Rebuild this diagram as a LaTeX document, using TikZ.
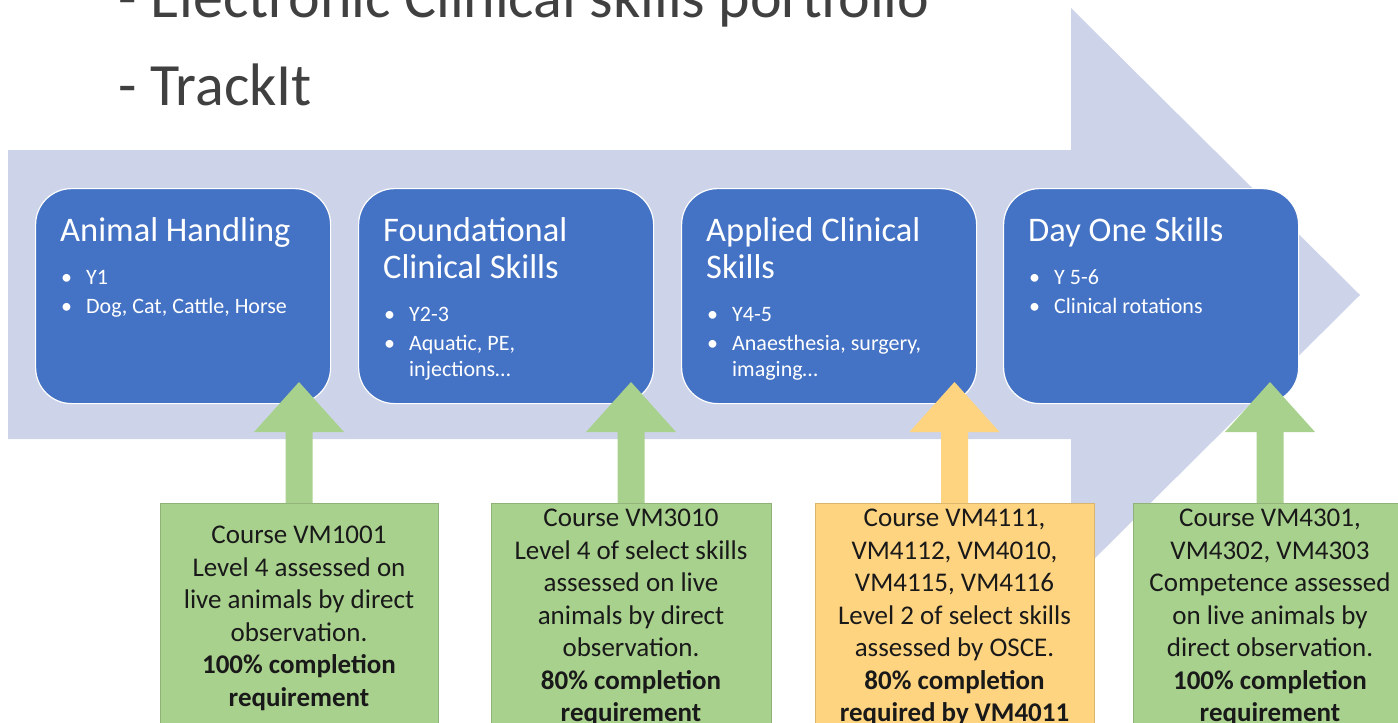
\documentclass[tikz,border=0pt]{standalone}
\usepackage{fontspec}
\setmainfont{Carlito}
\usetikzlibrary{calc}
\definecolor{bgarrow}{HTML}{CDD4E9}
\definecolor{boxblue}{HTML}{4472C4}
\definecolor{lgreen}{HTML}{A9D18E}
\definecolor{lorange}{HTML}{FFD480}
\definecolor{toptext}{HTML}{404040}
\begin{document}
\begin{tikzpicture}[x=1pt,y=-1pt,
  bluebox/.style={draw=white, line width=1.2pt, fill=boxblue, rounded corners=36pt,
    minimum width=295pt, minimum height=215pt, anchor=north west, inner sep=0pt},
  title/.style={anchor=base west, inner sep=0pt, text=white, font=\fontsize{34.5}{37}\selectfont},
  bul/.style={anchor=base west, inner sep=0pt, text=white, font=\fontsize{22}{24}\selectfont},
  gbox/.style={fill=lgreen, draw=lgreen!85!black, line width=0.6pt, anchor=north,
    minimum height=260pt, inner sep=0pt},
  obox/.style={gbox, fill=lorange, draw=lorange!85!black},
  gtext/.style={anchor=north, align=center, inner sep=0pt, text=black!90,
    font=\fontsize{27}{32.5}\selectfont},
  toplabel/.style={anchor=base west, inner sep=0pt, text=toptext, font=\fontsize{60}{70}\selectfont}
]
\useasboundingbox (0,0) rectangle (1398,723);
\clip (0,0) rectangle (1398,723);

% top texts
\node[toplabel] (p1) at (118,17) {- Electronic Clinical skills portfolio};
\node[toplabel] (p2) at (118,105) {- TrackIt};

% big background arrow
\fill[bgarrow] (8,150) -- (1071,150) -- (1071,8) -- (1360,295) -- (1071,582)
  -- (1071,439) -- (8,439) -- cycle;

% blue stage boxes
\node[bluebox] (b1) at (35,188) {};
\node[bluebox] (b2) at (358,188) {};
\node[bluebox] (b3) at (681,188) {};
\node[bluebox] (b4) at (1003,188) {};

% box 1
\node[title] (t1) at ($(b1.north west)+(25,53)$) {Animal Handling};
\node[bul] (b1d1) at ($(b1.north west)+(26,96)$) {•};
\node[bul] (b1l1) at ($(b1.north west)+(51,96)$) {Y1};
\node[bul] (b1d2) at ($(b1.north west)+(26,125)$) {•};
\node[bul] (b1l2) at ($(b1.north west)+(51,125)$) {Dog, Cat, Cattle, Horse};

% box 2
\node[title] (t2a) at ($(b2.north west)+(25,53)$) {Foundational};
\node[title] (t2b) at ($(b2.north west)+(25,90)$) {Clinical Skills};
\node[bul] (b2d1) at ($(b2.north west)+(26,133)$) {•};
\node[bul] (b2l1) at ($(b2.north west)+(51,133)$) {Y2-3};
\node[bul] (b2d2) at ($(b2.north west)+(26,162)$) {•};
\node[bul] (b2l2) at ($(b2.north west)+(51,162)$) {Aquatic, PE,};
\node[bul] (b2l3) at ($(b2.north west)+(51,188)$) {injections…};

% box 3
\node[title] (t3a) at ($(b3.north west)+(25,53)$) {Applied Clinical};
\node[title] (t3b) at ($(b3.north west)+(25,90)$) {Skills};
\node[bul] (b3d1) at ($(b3.north west)+(26,133)$) {•};
\node[bul] (b3l1) at ($(b3.north west)+(51,133)$) {Y4-5};
\node[bul] (b3d2) at ($(b3.north west)+(26,162)$) {•};
\node[bul] (b3l2) at ($(b3.north west)+(51,162)$) {Anaesthesia, surgery,};
\node[bul] (b3l3) at ($(b3.north west)+(51,188)$) {imaging…};

% box 4
\node[title] (t4) at ($(b4.north west)+(25,53)$) {Day One Skills};
\node[bul] (b4d1) at ($(b4.north west)+(26,96)$) {•};
\node[bul] (b4l1) at ($(b4.north west)+(51,96)$) {Y 5-6};
\node[bul] (b4d2) at ($(b4.north west)+(26,125)$) {•};
\node[bul] (b4l2) at ($(b4.north west)+(51,125)$) {Clinical rotations};

% assessment boxes
\node[gbox, minimum width=278pt] (g1) at (299,503) {};
\node[gbox, minimum width=280pt] (g2) at (631,503) {};
\node[obox, minimum width=279pt] (g3) at (954.5,503) {};
\node[gbox, minimum width=274pt] (g4) at (1270,503) {};

% block arrows from assessment boxes up to stage boxes
\foreach \g/\c in {g1/lgreen, g2/lgreen, g3/lorange, g4/lgreen}{
  \fill[\c] ($(\g.north)+(-13.5,0)$) -- ($(\g.north)+(-13.5,-71)$) -- ($(\g.north)+(-45,-71)$)
    -- ($(\g.north)+(0,-121)$) -- ($(\g.north)+(45,-71)$) -- ($(\g.north)+(13.5,-71)$)
    -- ($(\g.north)+(13.5,0)$) -- cycle;
}

% texts of assessment boxes
\node[gtext] (g1t) at ($(g1.north)+(0,23)$) {Course VM1001\\Level 4 assessed on\\live animals by direct\\observation.\\\textbf{100\% completion}\\\textbf{requirement}};
\node[gtext] (g2t) at ($(g2.north)+(0,6)$) {Course VM3010\\Level 4 of select skills\\assessed on live\\animals by direct\\observation.\\\textbf{80\% completion}\\\textbf{requirement}};
\node[gtext] (g3t) at ($(g3.north)+(0,6)$) {Course VM4111,\\VM4112, VM4010,\\VM4115, VM4116\\Level 2 of select skills\\assessed by OSCE.\\\textbf{80\% completion}\\\textbf{required by VM4011}};
\node[gtext] (g4t) at ($(g4.north)+(0,6)$) {Course VM4301,\\VM4302, VM4303\\Competence assessed\\on live animals by\\direct observation.\\\textbf{100\% completion}\\\textbf{requirement}};
\end{tikzpicture}
\end{document}
